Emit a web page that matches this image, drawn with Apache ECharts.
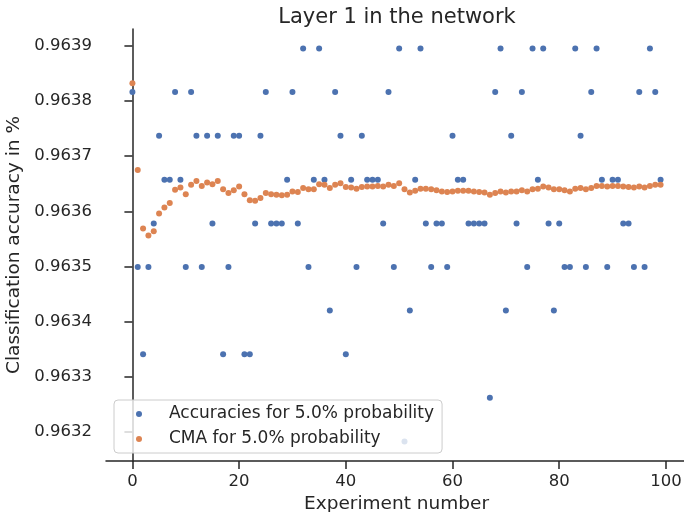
<!DOCTYPE html>
<html>
<head>
<meta charset="utf-8">
<script src="https://cdn.jsdelivr.net/npm/echarts@6/dist/echarts.min.js"></script>
<style>
  html, body { margin: 0; padding: 0; background: #fff; }
  #chart { width: 684px; height: 512px; }
</style>
</head>
<body>
<div id="chart"></div>
<script>
// accuracy per experiment (index = experiment number)
var accuracies = [
  0.963816, 0.963499, 0.963341, 0.963499, 0.963578, 0.963737, 0.963657, 0.963657, 0.963816, 0.963657,
  0.963499, 0.963816, 0.963737, 0.963499, 0.963737, 0.963578, 0.963737, 0.963341, 0.963499, 0.963737,
  0.963737, 0.963341, 0.963341, 0.963578, 0.963737, 0.963816, 0.963578, 0.963578, 0.963578, 0.963657,
  0.963816, 0.963578, 0.963895, 0.963499, 0.963657, 0.963895, 0.963657, 0.963420, 0.963816, 0.963737,
  0.963341, 0.963657, 0.963499, 0.963737, 0.963657, 0.963657, 0.963657, 0.963578, 0.963816, 0.963499,
  0.963895, 0.963183, 0.963420, 0.963657, 0.963895, 0.963578, 0.963499, 0.963578, 0.963578, 0.963499,
  0.963737, 0.963657, 0.963657, 0.963578, 0.963578, 0.963578, 0.963578, 0.963262, 0.963816, 0.963895,
  0.963420, 0.963737, 0.963578, 0.963816, 0.963499, 0.963895, 0.963657, 0.963895, 0.963578, 0.963420,
  0.963578, 0.963499, 0.963499, 0.963895, 0.963737, 0.963499, 0.963816, 0.963895, 0.963657, 0.963499,
  0.963657, 0.963657, 0.963578, 0.963578, 0.963499, 0.963816, 0.963499, 0.963895, 0.963816, 0.963657
];

// cumulative moving average
var cma = [
  0.963832, 0.963675, 0.963569, 0.963556, 0.963564, 0.963596, 0.963607, 0.963615, 0.963639, 0.963643,
  0.963631, 0.963648, 0.963655, 0.963646, 0.963652, 0.963649, 0.963655, 0.963640, 0.963633, 0.963638,
  0.963645, 0.963631, 0.963620, 0.963619, 0.963624, 0.963633, 0.963631, 0.963630, 0.963629, 0.963630,
  0.963636, 0.963635, 0.963642, 0.963640, 0.963640, 0.963649, 0.963648, 0.963642, 0.963648, 0.963651,
  0.963644, 0.963643, 0.963641, 0.963644, 0.963645, 0.963645, 0.963646, 0.963645, 0.963648, 0.963646,
  0.963651, 0.963640, 0.963634, 0.963637, 0.963641, 0.963641, 0.963640, 0.963638, 0.963636, 0.963635,
  0.963636, 0.963637, 0.963637, 0.963637, 0.963636, 0.963635, 0.963634, 0.963630, 0.963633, 0.963636,
  0.963634, 0.963636, 0.963636, 0.963638, 0.963636, 0.963640, 0.963641, 0.963645, 0.963643, 0.963640,
  0.963640, 0.963638, 0.963636, 0.963641, 0.963642, 0.963640, 0.963642, 0.963646, 0.963646, 0.963645,
  0.963646, 0.963646, 0.963645, 0.963644, 0.963643, 0.963645, 0.963643, 0.963646, 0.963648, 0.963648
];

var xTicks = [0, 20, 40, 60, 80, 100];
var yTicks = [0.9632, 0.9633, 0.9634, 0.9635, 0.9636, 0.9637, 0.9638, 0.9639];

var ink = '#262626';
var font = 'DejaVu Sans';

function toPoints(arr) {
  return arr.map(function (v, i) { return [i, v]; });
}

var myChart = echarts.init(document.getElementById('chart'), null, { renderer: 'canvas' });

var option = {
  backgroundColor: '#fff',
  animation: false,
  title: {
    text: 'Layer 1 in the network',
    left: 397,
    top: 7,
    padding: 0,
    textAlign: 'center',
    textStyle: { fontFamily: font, fontSize: 21, fontWeight: 'normal', color: ink }
  },
  // keep the plot box where the reference has it
  grid: { left: 106, top: 29, width: 581, height: 432, outerBoundsMode: 'none', containLabel: false },
  legend: {
    orient: 'vertical',
    left: 114,
    top: 400,
    padding: [4, 8, 4, 22],
    itemGap: 5,
    itemWidth: 6,
    itemHeight: 6,
    icon: 'circle',
    backgroundColor: 'rgba(255,255,255,0.8)',
    borderColor: '#cccccc',
    borderWidth: 1,
    borderRadius: 4,
    textStyle: { fontFamily: font, fontSize: 17, color: ink, lineHeight: 20, padding: [0, 0, 0, 22] },
    data: ['Accuracies for 5.0% probability', 'CMA for 5.0% probability']
  },
  xAxis: {
    type: 'value',
    min: -4.95,
    max: 103.95,
    name: 'Experiment number',
    nameLocation: 'middle',
    nameGap: 28,
    nameTextStyle: { fontFamily: font, fontSize: 18.5, color: ink },
    axisLine: { lineStyle: { color: ink, width: 1.5 } },
    axisTick: { customValues: xTicks, length: 8, lineStyle: { color: ink, width: 1.5 } },
    axisLabel: { customValues: xTicks, margin: 12, fontFamily: font, fontSize: 16.5, color: ink },
    splitLine: { show: false }
  },
  yAxis: {
    type: 'value',
    min: 0.9631475,
    max: 0.9639303,
    name: 'Classification accuracy in %',
    nameLocation: 'middle',
    nameGap: 77,
    nameTextStyle: { fontFamily: font, fontSize: 18.5, color: ink },
    axisLine: { show: true, lineStyle: { color: ink, width: 1.5 } },
    axisTick: { show: true, customValues: yTicks, length: 8, lineStyle: { color: ink, width: 1.5 } },
    axisLabel: {
      customValues: yTicks, margin: 14, fontFamily: font, fontSize: 16.5, color: ink,
      formatter: function (v) { return v.toFixed(4); }
    },
    splitLine: { show: false }
  },
  series: [
    {
      name: 'Accuracies for 5.0% probability',
      type: 'scatter',
      symbolSize: 6,
      itemStyle: { color: '#4C72B0', opacity: 1 },
      data: toPoints(accuracies)
    },
    {
      name: 'CMA for 5.0% probability',
      type: 'scatter',
      symbolSize: 6,
      itemStyle: { color: '#DD8452', opacity: 1 },
      data: toPoints(cma)
    }
  ]
};

myChart.setOption(option);
</script>
</body>
</html>
